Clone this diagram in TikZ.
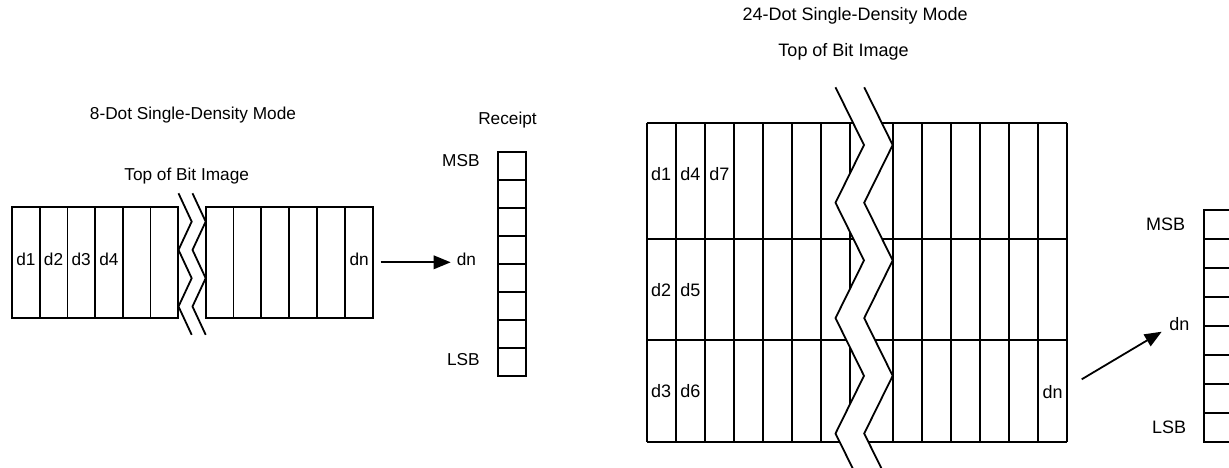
\documentclass[tikz,border=0pt]{standalone}
\usepackage{fontspec}
\setmainfont{Liberation Sans}
\usetikzlibrary{arrows.meta}
\begin{document}
\begin{tikzpicture}[x=1pt,y=-1pt,line width=1.8pt,line join=miter,
  lblL/.style={inner sep=0pt,text height=0.72em,text depth=0pt,font=\fontsize{17.25}{20}\selectfont},
  lblR/.style={inner sep=0pt,text height=0.72em,text depth=0pt,font=\fontsize{18}{21}\selectfont},
  arr/.style={-{Triangle[length=17pt,width=13.5pt]},line width=1.8pt},
  band/.style={fill=white,draw=none}]
\useasboundingbox (0,0) rectangle (1229,467);
\clip (0,0) rectangle (1229,467);

% ================= LEFT: 8-dot =================
\node[lblL] (titleL) at (193,116) {8-Dot Single-Density Mode};
\node[lblL] (topL) at (186.7,176.7) {Top of Bit Image};
\node[lblL] (receiptL) at (507.5,120.5) {Receipt};

% block A
\draw (12,207.3) rectangle (178.2,317.7);
\foreach \i in {1,...,5} \draw ({12+27.7*\i},207.3) -- ++(0,110.4);
% block B
\draw (205.7,207.3) rectangle (372.7,317.7);
\foreach \i in {1,...,5} \draw ({205.7+27.83*\i},207.3) -- ++(0,110.4);

\node[lblL] (Ld1) at (25.85,262) {d1};
\node[lblL] (Ld2) at (53.55,262) {d2};
\node[lblL] (Ld3) at (81.25,262) {d3};
\node[lblL] (Ld4) at (108.95,262) {d4};
\node[lblL] (Ldn) at (359.2,262) {dn};

% zigzag break
\draw (178.5,193.3) -- (191.7,221.6) -- (178.5,249.9) -- (191.7,278.2) -- (178.5,306.5) -- (191.7,334.8);
\draw (192.5,193.3) -- (205.7,221.6) -- (192.5,249.9) -- (205.7,278.2) -- (192.5,306.5) -- (205.7,334.8);

% receipt column
\draw (498.3,151.7) rectangle (525.7,375.7);
\foreach \i in {1,...,7} \draw (498.3,{151.7+28*\i}) -- ++(27.4,0);
\node[lblL,anchor=east] (msbL) at (480.5,162.7) {MSB};
\node[lblL,anchor=east] (lsbL) at (480.5,361.7) {LSB};
\node[lblL,anchor=west] (dnL) at (456,262.3) {dn};
\coordinate (arrLstart) at (380.7,262.3);
\draw[arr,shorten >=5.3pt] (arrLstart) -- (dnL.west);

% ================= RIGHT: 24-dot =================
\node[lblR] (titleR) at (855.2,16.7) {24-Dot Single-Density Mode};
\node[lblR] (topR) at (843.5,53.3) {Top of Bit Image};

% horizontal lines
\foreach \y in {123.3,239,340,441.7} \draw (646.7,\y) -- (1067.3,\y);
% vertical lines, left part
\foreach \i in {0,...,7} \draw ({646.7+29.04*\i},123.3) -- ++(0,318.4);
% vertical lines, right part
\foreach \i in {0,...,6} \draw ({892.7+29.1*\i},123.3) -- ++(0,318.4);

% white band and zigzags
\fill[band] (835.5,87.3) -- (864,145) -- (835.5,202.7) -- (864,260.4) -- (835.5,318.1) -- (864,375.8) -- (835.5,433.5) -- (864,491.2)
  -- (892.7,491.2) -- (864.2,433.5) -- (892.7,375.8) -- (864.2,318.1) -- (892.7,260.4) -- (864.2,202.7) -- (892.7,145) -- (864.2,87.3) -- cycle;
\draw (835.5,87.3) -- (864,145) -- (835.5,202.7) -- (864,260.4) -- (835.5,318.1) -- (864,375.8) -- (835.5,433.5) -- (864,491.2);
\draw (864.2,87.3) -- (892.7,145) -- (864.2,202.7) -- (892.7,260.4) -- (864.2,318.1) -- (892.7,375.8) -- (864.2,433.5) -- (892.7,491.2);

\node[lblR] (Rd1) at (661.2,177.3) {d1};
\node[lblR] (Rd4) at (690.3,177.3) {d4};
\node[lblR] (Rd7) at (719.4,177.3) {d7};
\node[lblR] (Rd2) at (661.2,293.3) {d2};
\node[lblR] (Rd5) at (690.3,293.3) {d5};
\node[lblR] (Rd3) at (661.2,394.3) {d3};
\node[lblR] (Rd6) at (690.3,394.3) {d6};
\node[lblR] (Rdn) at (1052.7,395) {dn};

% receipt column (cut by the right border)
\draw (1204,210) rectangle (1240,441.7);
\foreach \i in {1,...,7} \draw (1204,{210+28.96*\i}) -- ++(36,0);
\node[lblR,anchor=east] (msbR) at (1186,226.7) {MSB};
\node[lblR,anchor=east] (lsbR) at (1187,430) {LSB};
\node[lblR,anchor=west] (dnR) at (1168.5,326.7) {dn};
\coordinate (arrRstart) at (1081.7,379.3);
\coordinate (arrRend) at (1161.7,331.7);
\draw[arr] (arrRstart) -- (arrRend);
\end{tikzpicture}
\end{document}
